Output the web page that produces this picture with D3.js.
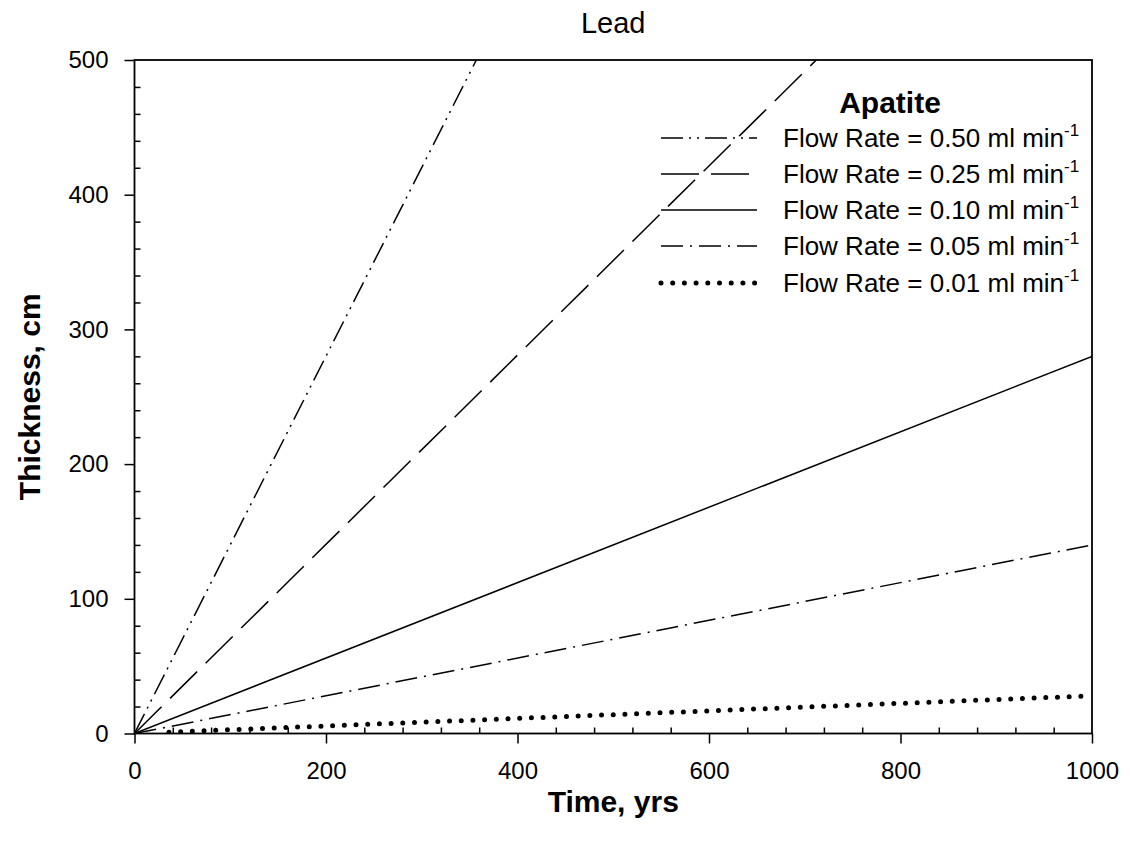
<!DOCTYPE html>
<html>
<head>
<meta charset="utf-8">
<script src="https://cdn.jsdelivr.net/npm/d3@7"></script>
<style>
  html, body { margin: 0; padding: 0; background: #fff; }
  svg { display: block; font-family: Arial, "Liberation Sans", sans-serif; }
</style>
</head>
<body>
<svg id="chart" width="1130" height="852"></svg>
<script>
// ---- data ----
const chartTitle = "Lead";
const legendTitle = "Apatite";
const xAxisTitle = "Time, yrs";
const yAxisTitle = "Thickness, cm";
const seriesNames = ["0.50", "0.25", "0.10", "0.05", "0.01"];
const time050 = [0, 357];   const thick050 = [0, 500];
const time025 = [0, 712];   const thick025 = [0, 500];
const time010 = [0, 1000];  const thick010 = [0, 280];
const time005 = [0, 1000];  const thick005 = [0, 140];
const time001 = [36, 1000]; const thick001 = [1, 28];
const xTicks = [0, 200, 400, 600, 800, 1000];
const yTicks = [0, 100, 200, 300, 400, 500];
const xMinorTicks = d3.range(0, 1001, 40);
const yMinorTicks = d3.range(0, 501, 20);

const seriesTimes = [time050, time025, time010, time005, time001];
const seriesThick = [thick050, thick025, thick010, thick005, thick001];

// styles (not data)
const styles = [
  { dash: "22,6,2,6,2,6", width: 1.5, cap: "butt" },
  { dash: "38,12", width: 1.5, cap: "butt" },
  { dash: null, width: 1.5, cap: "butt" },
  { dash: "22,7,2,7", width: 1.5, cap: "butt" },
  { dash: "0,11.7", width: 5, cap: "round" }
];

const svg = d3.select("#chart");
const pLeft = 134.5, pRight = 1092, pTop = 60, pBottom = 733.5;

const x = d3.scaleLinear().domain([0, 1000]).range([pLeft, pRight]);
const y = d3.scaleLinear().domain([0, 500]).range([pBottom, pTop]);

// clip
svg.append("clipPath").attr("id", "clip")
  .append("rect").attr("x", pLeft).attr("y", pTop)
  .attr("width", pRight - pLeft).attr("height", pBottom - pTop);

// minor ticks (inward)
const gx = svg.append("g").attr("transform", `translate(0,${pBottom})`)
  .call(d3.axisBottom(x).tickValues(xMinorTicks.filter(v => !xTicks.includes(v)))
    .tickSize(-6).tickFormat(""));
gx.select(".domain").remove();
const gy = svg.append("g").attr("transform", `translate(${pLeft},0)`)
  .call(d3.axisLeft(y).tickValues(yMinorTicks.filter(v => !yTicks.includes(v)))
    .tickSize(-6).tickFormat(""));
gy.select(".domain").remove();

// major ticks (outward) with labels
const gxM = svg.append("g").attr("transform", `translate(0,${pBottom})`)
  .call(d3.axisBottom(x).tickValues(xTicks).tickSize(10).tickPadding(18).tickFormat(d3.format("d")));
gxM.select(".domain").remove();
gxM.selectAll("text").attr("font-size", 24).attr("font-family", "Arial, 'Liberation Sans', sans-serif").attr("fill", "#000");
const gyM = svg.append("g").attr("transform", `translate(${pLeft},0)`)
  .call(d3.axisLeft(y).tickValues(yTicks).tickSize(10).tickPadding(16).tickFormat(d3.format("d")));
gyM.select(".domain").remove();
gyM.selectAll("text").attr("font-size", 24).attr("font-family", "Arial, 'Liberation Sans', sans-serif").attr("fill", "#000");
svg.selectAll(".tick line").attr("stroke", "#000").attr("stroke-width", 1.5);

// frame
svg.append("rect").attr("x", pLeft).attr("y", pTop)
  .attr("width", pRight - pLeft).attr("height", pBottom - pTop)
  .attr("fill", "none").attr("stroke", "#000").attr("stroke-width", 1.8);

// lines
const line = d3.line().x(d => x(d[0])).y(d => y(d[1]));
const plot = svg.append("g").attr("clip-path", "url(#clip)");
seriesNames.forEach((name, i) => {
  const pts = seriesTimes[i].map((t, j) => [t, seriesThick[i][j]]);
  plot.append("path").datum(pts)
    .attr("d", line)
    .attr("fill", "none")
    .attr("stroke", "#000")
    .attr("stroke-width", styles[i].width)
    .attr("stroke-linecap", styles[i].cap)
    .attr("stroke-dasharray", styles[i].dash);
});

// title
svg.append("text").attr("x", (pLeft + pRight) / 2).attr("y", 33)
  .attr("text-anchor", "middle").attr("font-size", 29).text(chartTitle);

// axis titles
svg.append("text").attr("x", (pLeft + pRight) / 2).attr("y", 812)
  .attr("text-anchor", "middle").attr("font-size", 30).attr("font-weight", "bold")
  .text(xAxisTitle);
svg.append("text").attr("transform", `translate(40,${(pTop + pBottom) / 2}) rotate(-90)`)
  .attr("text-anchor", "middle").attr("font-size", 30).attr("font-weight", "bold")
  .text(yAxisTitle);

// legend
svg.append("text").attr("x", 890).attr("y", 113)
  .attr("text-anchor", "middle").attr("font-size", 30).attr("font-weight", "bold")
  .text(legendTitle);
const rowY = [138, 174, 210, 246, 283];
seriesNames.forEach((name, i) => {
  const g = svg.append("g");
  g.append("line").attr("x1", 661).attr("x2", 757).attr("y1", rowY[i]).attr("y2", rowY[i])
    .attr("stroke", "#000")
    .attr("stroke-width", styles[i].width)
    .attr("stroke-linecap", styles[i].cap)
    .attr("stroke-dasharray", styles[i].dash);
  const t = g.append("text").attr("x", 783).attr("y", rowY[i] + 9).attr("font-size", 26);
  t.append("tspan").text(`Flow Rate = ${name} ml min`);
  t.append("tspan").attr("dy", -11).attr("font-size", 17).text("-1");
});
</script>
</body>
</html>
